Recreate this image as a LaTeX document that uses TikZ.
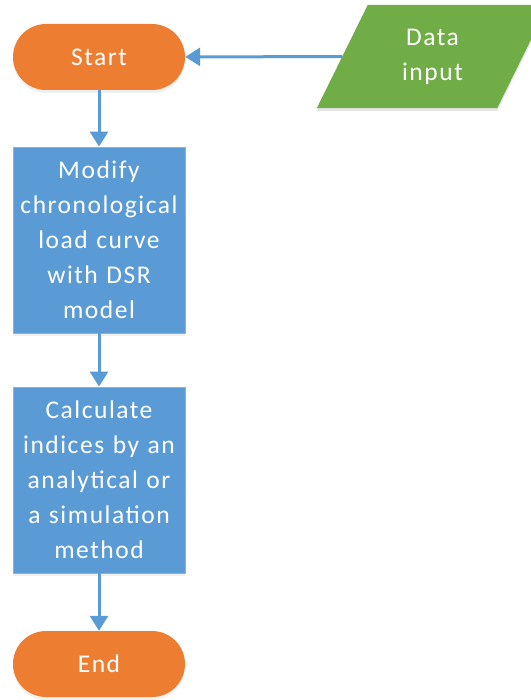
\documentclass[tikz,border=0pt]{standalone}
\usepackage{fontspec}
\setmainfont{Carlito}[LetterSpace=6]
\usetikzlibrary{shapes.geometric,arrows.meta,shadows,backgrounds}
\definecolor{flowblue}{HTML}{5B9BD5}
\definecolor{floworange}{HTML}{ED7D31}
\definecolor{flowgreen}{HTML}{70AD47}
\tikzset{
  softshadow/.style={drop shadow={opacity=0.12, shadow xshift=0pt, shadow yshift=-3pt}},
  base/.style={text=white, font=\fontsize{25.5}{35}\selectfont, align=center, inner sep=0pt},
  terminal/.style={base, fill=floworange, softshadow, minimum width=172pt, minimum height=66pt, rounded corners=33pt},
  process/.style={base, fill=flowblue, softshadow, draw=flowblue!75!white, line width=0.8pt, minimum width=172pt, minimum height=186pt, text width=172pt},
  io/.style={base, minimum width=180pt, minimum height=103pt},
  iofill/.style={fill=flowgreen},
  flow/.style={draw=flowblue, line width=3pt, -{Triangle[length=15pt,width=18pt]}}
}
\begin{document}
\begin{tikzpicture}[x=1pt,y=-1pt]
  \useasboundingbox (0,0) rectangle (530,700);
  \node[terminal] (start) at (99,57) {Start};
  \node[io] (data) at (432.5,56.5) {Data\\input};
  \begin{scope}[on background layer]
    \fill[black, opacity=0.1] ([shift={(25.5pt,-3pt)}]data.north west) -- ([shift={(25.5pt,-3pt)}]data.north east)
      -- ([shift={(-25.5pt,-3pt)}]data.south east) -- ([shift={(-25.5pt,-3pt)}]data.south west) -- cycle;
    \fill[iofill] ([xshift=25.5pt]data.north west) -- ([xshift=25.5pt]data.north east)
      -- ([xshift=-25.5pt]data.south east) -- ([xshift=-25.5pt]data.south west) -- cycle;
  \end{scope}
  \node[process] (modify) at (99,240) {Modify\\chronological\\load curve\\with DSR\\model};
  \node[process] (calc) at (99,480) {Calculate\\indices by an\\analytical or\\a simulation\\method};
  \node[terminal] (end) at (99,664) {End};
  \draw[flow] (data) -- (start);
  \draw[flow] (start) -- (modify);
  \draw[flow] (modify) -- (calc);
  \draw[flow] (calc) -- (end);
\end{tikzpicture}
\end{document}
